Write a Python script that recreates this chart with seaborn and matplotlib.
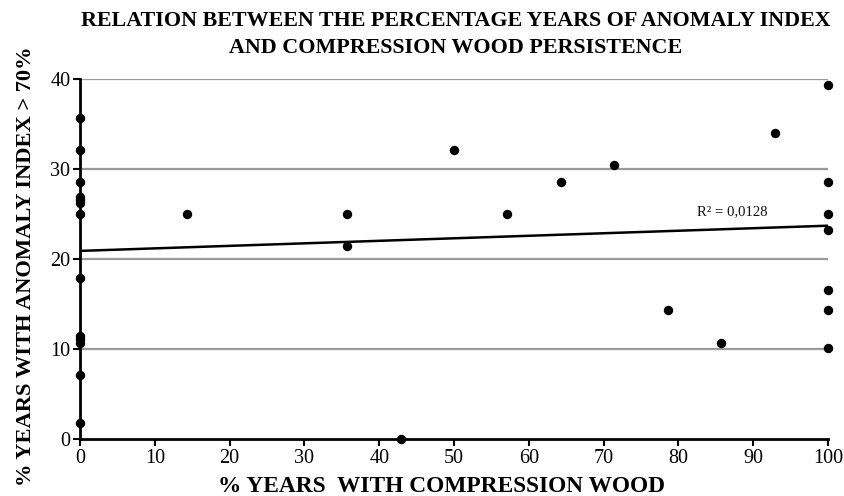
import numpy as np
import pandas as pd
import matplotlib
matplotlib.use("Agg")
import matplotlib.pyplot as plt
import seaborn as sns

# ---- data ----
compression_pct = [0, 0, 0, 0, 0, 0, 0, 0, 0, 0, 0, 0, 0,
                   14.3, 35.7, 35.7, 42.9, 50.0, 57.1, 64.3, 71.4, 78.6, 85.7, 92.9,
                   100, 100, 100, 100, 100, 100, 100]
anomaly_pct = [35.7, 32.1, 28.6, 26.9, 26.6, 26.2, 25.0, 17.9, 11.5, 11.1, 10.7, 7.1, 1.8,
               25.0, 25.0, 21.4, 0.0, 32.1, 25.0, 28.6, 30.4, 14.3, 10.7, 34.0,
               39.3, 28.6, 25.0, 23.2, 16.6, 14.3, 10.1]
trend_x = [0, 100]
trend_y = [20.9, 23.7]
r2_label = "R² = 0,0128"
x_ticks = [0, 10, 20, 30, 40, 50, 60, 70, 80, 90, 100]
y_ticks = [0, 10, 20, 30, 40]

title = ("RELATION BETWEEN THE PERCENTAGE YEARS OF ANOMALY INDEX\n"
         "AND COMPRESSION WOOD PERSISTENCE")
x_label = "% YEARS  WITH COMPRESSION WOOD"
y_label = "% YEARS WITH ANOMALY INDEX > 70%"

df = pd.DataFrame({"x": compression_pct, "y": anomaly_pct})
trend = pd.DataFrame({"x": trend_x, "y": trend_y})

sns.set_theme(style="white")
plt.rcParams["font.family"] = ["Liberation Serif", "DejaVu Serif"]
plt.rcParams["text.color"] = "black"
plt.rcParams["axes.labelcolor"] = "black"
plt.rcParams["xtick.color"] = "black"
plt.rcParams["ytick.color"] = "black"

fig = plt.figure(figsize=(8.45, 4.96), dpi=100)
ax = fig.add_axes([80 / 845, 57 / 496, 748 / 845, 360 / 496])

for yv in y_ticks[1:]:
    ax.axhline(yv, color="#9a9a9a", lw=1.6, zorder=0)

sns.lineplot(data=trend, x="x", y="y", ax=ax, color="black", lw=1.8, zorder=3)
sns.scatterplot(data=df, x="x", y="y", ax=ax, color="black", s=46,
                edgecolor="black", linewidth=0, zorder=4, clip_on=False)

ax.text(87.2, 25.3, r2_label, ha="center", va="center", fontsize=10.6, color="#111111")

ax.set_xlim(0, 100)
ax.set_ylim(0, 40)
ax.set_xticks(x_ticks)
ax.set_yticks(y_ticks)
ax.tick_params(axis="both", which="both", direction="out", length=5, width=1.5,
               color="black", labelcolor="black", labelsize=14.5, pad=2,
               left=True, bottom=True)
for s in ["top", "right"]:
    ax.spines[s].set_visible(False)
for s in ["left", "bottom"]:
    ax.spines[s].set_color("black")
    ax.spines[s].set_linewidth(2)

ax.set_xlabel(x_label, fontsize=16.8, fontweight="bold", labelpad=6, color="black",
              x=0.483)
ax.set_ylabel(y_label, fontsize=16.2, fontweight="bold", labelpad=10, color="black",
              y=0.48)
ax.set_title(title, fontsize=15.8, fontweight="bold", pad=19, linespacing=1.45,
             x=0.502, color="black")

fig.savefig("out.png", dpi=100)
